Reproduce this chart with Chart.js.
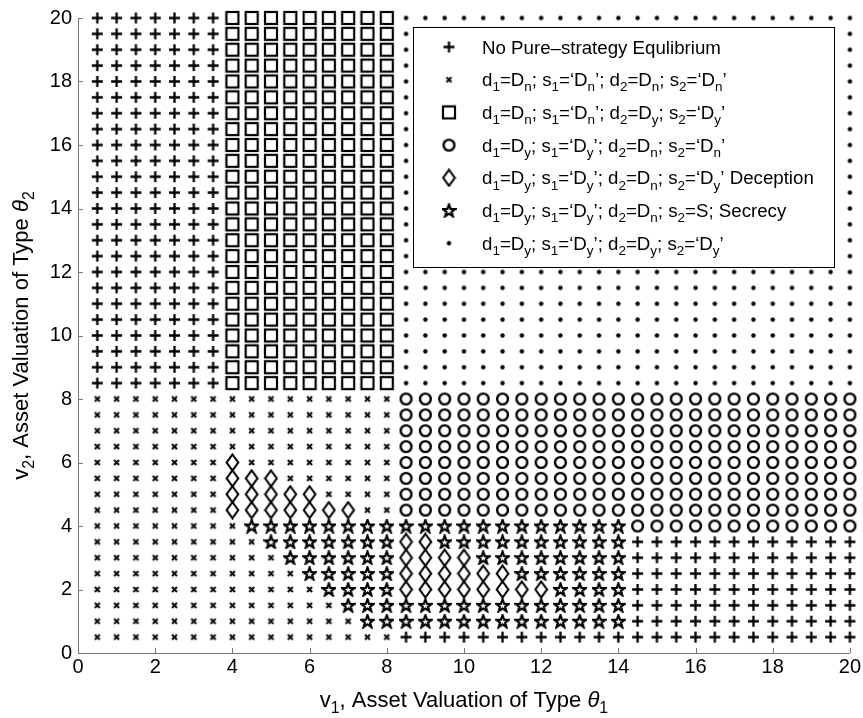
<!DOCTYPE html>
<html>
<head>
<meta charset="utf-8">
<script src="https://cdn.jsdelivr.net/npm/chart.js@4.4.0/dist/chart.umd.min.js"></script>
<style>
body{margin:0;background:#fff;}
</style>
</head>
<body>
<canvas id="miGrafica" width="863" height="718"></canvas>
<script>
// columnas (v1) y filas (v2) de la rejilla
var xValues = [0.5,1,1.5,2,2.5,3,3.5,4,4.5,5,5.5,6,6.5,7,7.5,8,8.5,9,9.5,10,
               10.5,11,11.5,12,12.5,13,13.5,14,14.5,15,15.5,16,16.5,17,17.5,18,18.5,19,19.5,20];
var yValues = [20,19.5,19,18.5,18,17.5,17,16.5,16,15.5,15,14.5,14,13.5,13,12.5,12,11.5,11,10.5,
               10,9.5,9,8.5,8,7.5,7,6.5,6,5.5,5,4.5,4,3.5,3,2.5,2,1.5,1,0.5];
var xTicks = [0,2,4,6,8,10,12,14,16,18,20];
var yTicks = [0,2,4,6,8,10,12,14,16,18,20];

// P=+  x=x  S=cuadrado  O=circulo  D=diamante  T=estrella  .=punto
var mapa = [
"PPPPPPPSSSSSSSSS........................", // 20
"PPPPPPPSSSSSSSSS........................",
"PPPPPPPSSSSSSSSS........................",
"PPPPPPPSSSSSSSSS........................",
"PPPPPPPSSSSSSSSS........................", // 18
"PPPPPPPSSSSSSSSS........................",
"PPPPPPPSSSSSSSSS........................",
"PPPPPPPSSSSSSSSS........................",
"PPPPPPPSSSSSSSSS........................", // 16
"PPPPPPPSSSSSSSSS........................",
"PPPPPPPSSSSSSSSS........................",
"PPPPPPPSSSSSSSSS........................",
"PPPPPPPSSSSSSSSS........................", // 14
"PPPPPPPSSSSSSSSS........................",
"PPPPPPPSSSSSSSSS........................",
"PPPPPPPSSSSSSSSS........................",
"PPPPPPPSSSSSSSSS........................", // 12
"PPPPPPPSSSSSSSSS........................",
"PPPPPPPSSSSSSSSS........................",
"PPPPPPPSSSSSSSSS........................",
"PPPPPPPSSSSSSSSS........................", // 10
"PPPPPPPSSSSSSSSS........................",
"PPPPPPPSSSSSSSSS........................",
"PPPPPPPSSSSSSSSS........................", // 8.5
"xxxxxxxxxxxxxxxxOOOOOOOOOOOOOOOOOOOOOOOO", // 8
"xxxxxxxxxxxxxxxxOOOOOOOOOOOOOOOOOOOOOOOO",
"xxxxxxxxxxxxxxxxOOOOOOOOOOOOOOOOOOOOOOOO",
"xxxxxxxxxxxxxxxxOOOOOOOOOOOOOOOOOOOOOOOO",
"xxxxxxxDxxxxxxxxOOOOOOOOOOOOOOOOOOOOOOOO", // 6
"xxxxxxxDDDxxxxxxOOOOOOOOOOOOOOOOOOOOOOOO",
"xxxxxxxDDDDDxxxxOOOOOOOOOOOOOOOOOOOOOOOO",
"xxxxxxxDDDDDDDxxOOOOOOOOOOOOOOOOOOOOOOOO",
"xxxxxxxxTTTTTTTTTTTTTTTTTTTTOOOOOOOOOOOO", // 4
"xxxxxxxxxTTTTTTTDDTTTTTTTTTTPPPPPPPPPPPP",
"xxxxxxxxxxTTTTTTDDDDTTTTTTTTPPPPPPPPPPPP",
"xxxxxxxxxxxTTTTTDDDDDDTTTTTTPPPPPPPPPPPP",
"xxxxxxxxxxxxTTTTDDDDDDDDTTTTPPPPPPPPPPPP", // 2
"xxxxxxxxxxxxxTTTTTTTTTTTTTTTPPPPPPPPPPPP",
"xxxxxxxxxxxxxxTTTTTTTTTTTTTTPPPPPPPPPPPP",
"xxxxxxxxxxxxxxxxPPPPPPPPPPPPPPPPPPPPPPPP"  // 0.5
];

var seriesCodes = ["P","x","S","O","D","T","."];
var seriesLabels = [
  "No Pure–strategy Equlibrium",
  "d_1=D_n; s_1=‘D_n’; d_2=D_n; s_2=‘D_n’",
  "d_1=D_n; s_1=‘D_n’; d_2=D_y; s_2=‘D_y’",
  "d_1=D_y; s_1=‘D_y’; d_2=D_n; s_2=‘D_n’",
  "d_1=D_y; s_1=‘D_y’; d_2=D_n; s_2=‘D_y’ Deception",
  "d_1=D_y; s_1=‘D_y’; d_2=D_n; s_2=S; Secrecy",
  "d_1=D_y; s_1=‘D_y’; d_2=D_y; s_2=‘D_y’"
];
var xTitle = "v_1, Asset Valuation of Type ~θ_1";
var yTitle = "v_2, Asset Valuation of Type ~θ_2";

var fuente = "'Liberation Sans', Arial, sans-serif";

document.addEventListener("DOMContentLoaded", function(){
    grafica();
});

function marcador(tipo){
    var c = document.createElement("canvas");
    var g, i;
    if (tipo === "P"){
        c.width = 13; c.height = 13; g = c.getContext("2d");
        g.lineWidth = 2.3;
        g.beginPath();
        g.moveTo(1,6.5); g.lineTo(12,6.5);
        g.moveTo(6.5,1); g.lineTo(6.5,12);
        g.stroke();
    } else if (tipo === "x"){
        c.width = 9; c.height = 9; g = c.getContext("2d");
        g.lineWidth = 2.2; g.strokeStyle = "#111";
        g.beginPath();
        g.moveTo(2,2); g.lineTo(7,7);
        g.moveTo(7,2); g.lineTo(2,7);
        g.stroke();
    } else if (tipo === "S"){
        c.width = 16; c.height = 16; g = c.getContext("2d");
        g.lineWidth = 2.2;
        g.strokeRect(2,2,12,12);
    } else if (tipo === "O"){
        c.width = 15; c.height = 15; g = c.getContext("2d");
        g.lineWidth = 2.4;
        g.beginPath(); g.arc(7.5,7.5,5.4,0,Math.PI*2); g.stroke();
    } else if (tipo === "D"){
        c.width = 15; c.height = 19; g = c.getContext("2d");
        g.lineWidth = 2.1;
        g.beginPath();
        g.moveTo(7.5,1.5); g.lineTo(13.3,9.5); g.lineTo(7.5,17.5); g.lineTo(1.7,9.5);
        g.closePath(); g.stroke();
    } else if (tipo === "T"){
        c.width = 15; c.height = 15; g = c.getContext("2d");
        g.lineWidth = 2.2;
        g.beginPath();
        for (i = 0; i < 10; i++){
            var ang = -Math.PI/2 + i*Math.PI/5;
            var r = (i % 2 === 0) ? 6.6 : 2.7;
            var px = 7.5 + r*Math.cos(ang), py = 8 + r*Math.sin(ang);
            if (i === 0) g.moveTo(px,py); else g.lineTo(px,py);
        }
        g.closePath(); g.stroke();
    } else {
        c.width = 7; c.height = 7; g = c.getContext("2d");
        g.beginPath(); g.arc(3.5,3.5,2.2,0,Math.PI*2); g.fill();
    }
    return c;
}

// texto con subindices (_c) y cursiva (~c)
function piezas(ctx, txt, size){
    var trozos = txt.split(/(_.|~.)/);
    var res = [];
    trozos.forEach(function(t){
        if (t === "") return;
        var p = {t: t, sub: false, it: false};
        if (t.length === 2 && t[0] === "_"){ p.t = t[1]; p.sub = true; }
        else if (t.length === 2 && t[0] === "~"){ p.t = t[1]; p.it = true; }
        var s = p.sub ? size*0.72 : size;
        p.font = (p.it ? "italic " : "") + s + "px " + fuente;
        ctx.font = p.font;
        p.w = ctx.measureText(p.t).width;
        res.push(p);
    });
    return res;
}

function escribir(ctx, txt, x, y, size, centrado){
    var ps = piezas(ctx, txt, size);
    var total = 0;
    ps.forEach(function(p){ total += p.w; });
    var cx = centrado ? x - total/2 : x;
    ps.forEach(function(p){
        ctx.font = p.font;
        ctx.fillText(p.t, cx, p.sub ? y + size*0.28 : y);
        cx += p.w;
    });
}

function grafica(){
    var miCanvas = document.getElementById("miGrafica").getContext("2d");
    var marcas = {};
    seriesCodes.forEach(function(code){ marcas[code] = marcador(code); });

    var datasets = seriesCodes.map(function(code, k){
        var pts = [];
        mapa.forEach(function(fila, r){
            for (var c = 0; c < fila.length; c++){
                if (fila[c] === code) pts.push({x: xValues[c], y: yValues[r]});
            }
        });
        return {
            label: seriesLabels[k],
            data: pts,
            pointStyle: marcas[code],
            pointRadius: 6,
            clip: false
        };
    });

    var extras = {
        id: "extras",
        afterDraw: function(chart){
            var ctx = chart.ctx, xs = chart.scales.x, ys = chart.scales.y, a = chart.chartArea;
            ctx.save();
            // ticks hacia dentro
            ctx.strokeStyle = "#777";
            ctx.lineWidth = 1;
            ctx.beginPath();
            xTicks.forEach(function(v){
                var px = Math.round(xs.getPixelForValue(v)) + 0.5;
                ctx.moveTo(px, a.bottom); ctx.lineTo(px, a.bottom - 5);
            });
            yTicks.forEach(function(v){
                var py = Math.round(ys.getPixelForValue(v)) + 0.5;
                ctx.moveTo(a.left, py); ctx.lineTo(a.left + 5, py);
            });
            ctx.stroke();

            // leyenda
            var lx = 413.5, ly = 27.5, lw = 421, lh = 240;
            ctx.fillStyle = "#fff";
            ctx.fillRect(lx, ly, lw, lh);
            ctx.strokeStyle = "#000";
            ctx.strokeRect(lx, ly, lw, lh);
            ctx.fillStyle = "#000";
            ctx.textBaseline = "alphabetic";
            ctx.textAlign = "left";
            seriesCodes.forEach(function(code, k){
                var yy = 47 + k*32.7;
                var m = marcas[code];
                ctx.drawImage(m, 449 - m.width/2, yy - m.height/2);
                escribir(ctx, seriesLabels[k], 482, yy + 6.5, 18.7, false);
            });

            // titulos de ejes
            escribir(ctx, xTitle, (a.left + a.right)/2, 707, 22, true);
            ctx.translate(28, (a.top + a.bottom)/2);
            ctx.rotate(-Math.PI/2);
            escribir(ctx, yTitle, 0, 0, 22, true);
            ctx.restore();
        }
    };

    var chart = new Chart(miCanvas, {
        type: "scatter",
        data: {datasets: datasets},
        options: {
            responsive: false,
            animation: false,
            events: [],
            layout: {padding: {top: 14, right: 12, left: 0, bottom: 0}},
            plugins: {legend: {display: false}, tooltip: {enabled: false}},
            scales: {
                x: {
                    type: "linear", min: 0, max: 20,
                    ticks: {stepSize: 2, color: "#000", font: {size: 20, family: fuente}, padding: 2, maxRotation: 0},
                    grid: {drawOnChartArea: false, drawTicks: false},
                    border: {color: "#777"},
                    afterFit: function(s){ s.height = 65; }
                },
                y: {
                    type: "linear", min: 0, max: 20,
                    ticks: {stepSize: 2, color: "#000", font: {size: 20, family: fuente}, padding: 6},
                    grid: {drawOnChartArea: false, drawTicks: false},
                    border: {color: "#777"},
                    afterFit: function(s){ s.width = 78; }
                }
            }
        },
        plugins: [extras]
    });
}
</script>
</body>
</html>
